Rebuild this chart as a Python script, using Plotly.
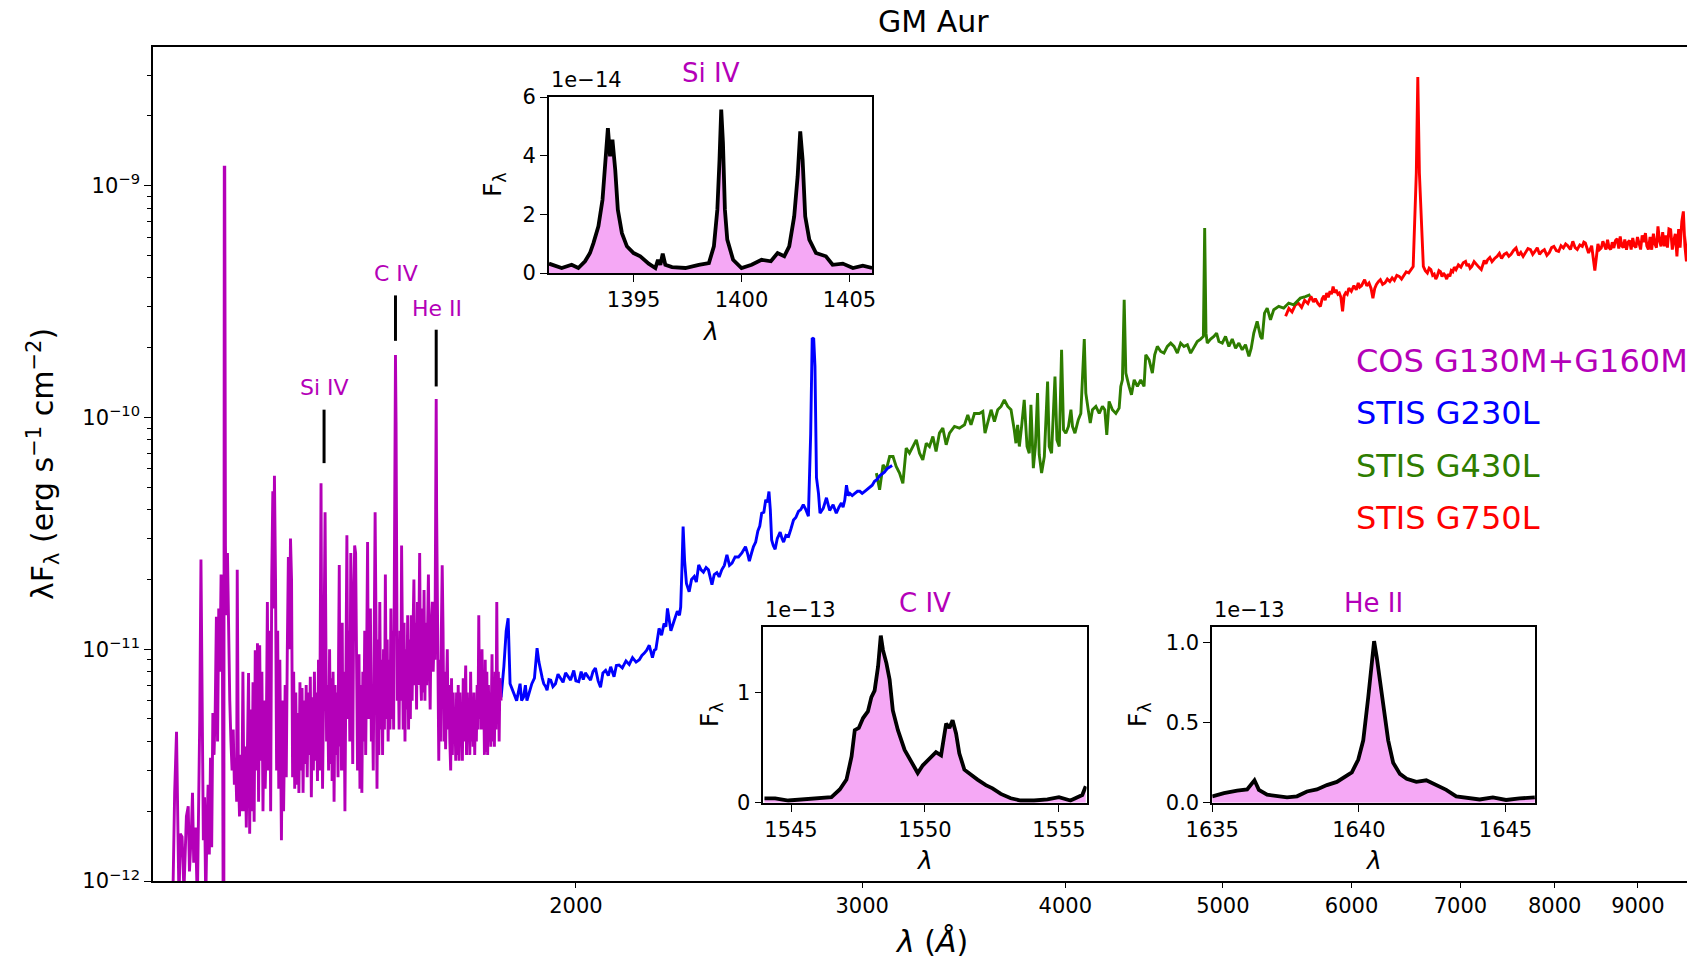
import plotly.graph_objects as go

# ---------------- main spectrum data (wavelength in Angstrom, lambda*F_lambda) ----------------
cos_wl = [1130, 1133, 1136, 1138, 1140, 1142, 1145, 1148, 1152, 1155, 1157, 1160, 1162, 1164, 1167, 1170,
          1172, 1174, 1176, 1178, 1180, 1182, 1184, 1186, 1188, 1190, 1192, 1194, 1196, 1198, 1200, 1202,
          1204, 1206, 1208, 1210, 1212, 1213.5, 1214.8, 1215.5, 1216.3, 1217.5, 1219, 1221, 1223, 1225, 1227,
          1229, 1231, 1233, 1235, 1237, 1238, 1240, 1242, 1244, 1246, 1248, 1250, 1252, 1254, 1256, 1258,
          1260, 1262, 1264, 1266, 1268, 1270, 1272, 1274, 1276, 1278, 1280, 1282, 1284, 1286, 1288, 1290,
          1292, 1294, 1296, 1298, 1300, 1302, 1303.5, 1305, 1307, 1309, 1311, 1313, 1315, 1318, 1320, 1322,
          1325, 1327, 1329, 1331, 1333, 1335, 1337, 1339, 1341, 1343, 1345, 1347, 1349, 1351, 1353, 1355,
          1357, 1359, 1361, 1363, 1365, 1367, 1369, 1371, 1373, 1375, 1377, 1379, 1381, 1383, 1385, 1387,
          1389, 1391, 1392.5, 1394, 1395.5, 1397, 1399, 1400.5, 1402, 1403.5, 1405, 1407, 1409, 1411, 1413,
          1415, 1416, 1418, 1420, 1422, 1424, 1426, 1428, 1429, 1430.5, 1432, 1434, 1435, 1436.5, 1438, 1440,
          1442, 1444, 1446, 1448, 1450, 1452, 1454, 1456, 1458, 1460, 1462, 1464, 1466, 1468, 1471, 1473,
          1475, 1477, 1479, 1481, 1483, 1485, 1487, 1489, 1491, 1493, 1495, 1497, 1499, 1501, 1503, 1505,
          1507, 1509, 1511, 1513, 1515, 1517, 1519, 1521, 1523, 1525, 1527, 1529, 1531, 1533, 1535, 1537,
          1539, 1541, 1543, 1545, 1546.5, 1547.8, 1549, 1550.3, 1551.5, 1553, 1555, 1557, 1559, 1561, 1562.5,
          1564, 1566, 1568, 1570, 1572, 1574, 1576, 1578, 1580, 1582, 1584, 1586, 1588, 1590, 1592, 1594,
          1596, 1598, 1600, 1603, 1605, 1607, 1609, 1611, 1613, 1615, 1617, 1619, 1621, 1623, 1625, 1627,
          1629, 1632, 1634, 1636, 1638, 1640, 1641, 1642, 1643.5, 1645, 1647, 1649, 1651, 1653, 1655, 1657,
          1659, 1661, 1663, 1665, 1667, 1669, 1671, 1673, 1675, 1677, 1679, 1681, 1683, 1685, 1687, 1689,
          1691, 1693, 1695, 1697, 1699, 1701, 1703, 1705, 1707, 1709, 1711, 1713, 1715, 1717, 1719, 1721,
          1723, 1725, 1727, 1729, 1731, 1733, 1735, 1737, 1739, 1741, 1743, 1745, 1747, 1749, 1751, 1753,
          1755, 1757, 1759, 1761, 1763, 1765, 1767, 1769, 1771, 1773, 1776, 1778, 1780, 1782, 1784, 1786,
          1788, 1790, 1792, 1794, 1796, 1799]
cos_flux = [8e-13, 2.4e-12, 4.4e-12, 1.6e-12, 8e-13, 1.6e-12, 1.55e-12, 9e-13, 1.9e-12, 2.1e-12, 1.1e-12, 1.6e-12,
            2.4e-12, 1.2e-12, 1.7e-12, 8e-13, 2.0e-12, 5.0e-12, 2.44e-11, 4.0e-12, 1.5e-12, 2.3e-12, 8e-13,
            1.7e-12, 2.6e-12, 1.3e-12, 3.4e-12, 1.4e-12, 5.3e-12, 3.5e-12, 5.5e-12, 1.38e-11, 4.0e-12, 1.5e-11,
            8.0e-12, 2.1e-11, 1.8e-11, 8e-13, 8e-13, 1.2e-9, 1.2e-9, 2.8e-11, 1.4e-11, 2.6e-11, 9e-12, 6e-12,
            4e-12, 3.0e-12, 4.5e-12, 2.6e-12, 3.4e-12, 2.2e-12, 2.2e-11, 3.0e-12, 1.9e-12, 3.5e-12, 2.0e-12,
            8.0e-12, 2.0e-12, 3.8e-12, 1.7e-12, 5.0e-12, 7.9e-12, 1.6e-12, 5.5e-12, 2.0e-12, 7.2e-12, 1.8e-12,
            9.9e-12, 3.0e-12, 1.06e-11, 2.2e-12, 1.04e-11, 3.3e-12, 8.0e-12, 2.0e-12, 6.0e-12, 2.5e-12, 4.2e-12,
            1.6e-11, 3.0e-12, 1.2e-11, 2.0e-12, 2.0e-11, 4.8e-11, 1.5e-11, 5.6e-11, 2.0e-11, 3.0e-12, 1.2e-11,
            2.5e-12, 9e-12, 1.5e-12, 6e-12, 2.0e-12, 7e-12, 2.8e-12, 1.0e-11, 2.5e-11, 1.0e-11, 3.0e-11, 2.0e-11,
            2.8e-12, 8e-12, 2.5e-12, 6.5e-12, 2.6e-12, 5.3e-12, 2.4e-12, 7.2e-12, 3.0e-12, 6.8e-12, 2.4e-12,
            6.0e-12, 3.2e-12, 7.0e-12, 2.8e-12, 6.5e-12, 3.5e-12, 7.6e-12, 2.3e-12, 6.2e-12, 3.0e-12, 8.0e-12,
            3.3e-12, 6.5e-12, 2.7e-12, 9e-12, 3.0e-12, 1.2e-11, 5.2e-11, 8e-12, 2.5e-12, 6e-12, 1.5e-11, 3.9e-11,
            1.2e-11, 4.0e-12, 7e-12, 3.0e-12, 1.0e-11, 3.2e-12, 7.5e-12, 2.7e-12, 8.0e-12, 2.2e-12, 7.0e-12,
            3.5e-12, 6.5e-12, 2.8e-12, 9.0e-12, 2.31e-11, 3.8e-12, 7.5e-12, 3.0e-12, 1.3e-11, 3.0e-12, 8.0e-12,
            2.0e-12, 1.0e-11, 3.1e-11, 5.0e-12, 1.2e-11, 4.0e-12, 2.6e-11, 1.3e-11, 3.2e-12, 1.5e-11, 2.8e-11,
            2.6e-11, 6.0e-12, 3.0e-12, 9.5e-12, 2.5e-12, 7.0e-12, 2.4e-12, 8e-12, 4.0e-12, 1.2e-11, 3.5e-12,
            9e-12, 2.9e-11, 5e-12, 1.0e-11, 1.5e-11, 4.0e-12, 7e-12, 3.0e-12, 1.2e-11, 3.9e-11, 1.2e-11, 2.5e-12,
            1.1e-11, 3.5e-12, 1.6e-11, 4.5e-12, 9e-12, 3.5e-12, 1.0e-11, 4.5e-12, 2.1e-11, 5e-12, 1.1e-11,
            4.0e-12, 9e-12, 4.5e-12, 1.5e-11, 5.0e-12, 1.2e-11, 4.5e-12, 2.0e-11, 8e-11, 1.86e-10, 9.5e-11,
            2.0e-11, 6e-12, 1.0e-11, 4.5e-12, 1.2e-11, 6e-12, 2.8e-11, 8e-12, 4.5e-12, 1.3e-11, 4.0e-12, 1.0e-11,
            5.5e-12, 1.4e-11, 4.5e-12, 1.1e-11, 5.0e-12, 1.4e-11, 6e-12, 1.2e-11, 2.0e-11, 7e-12, 1.3e-11,
            5.5e-12, 1.6e-11, 7.0e-12, 2.6e-11, 8e-12, 6.0e-12, 1.5e-11, 6.5e-12, 1.8e-11, 6e-12, 1.3e-11, 7e-12,
            1.2e-11, 2.1e-11, 9e-12, 5.5e-12, 1.2e-11, 1.6e-11, 8e-12, 1.1e-11, 9e-12, 6e-11, 1.2e-10, 4e-11,
            1.5e-11, 5e-12, 3.3e-12, 9e-12, 4.0e-12, 1.2e-11, 2.3e-11, 1.2e-11, 4.0e-12, 8e-12, 3.7e-12, 6.5e-12,
            1.0e-11, 4.5e-12, 7e-12, 4.0e-12, 3.0e-12, 7.5e-12, 3.5e-12, 6.5e-12, 4.0e-12, 5.5e-12, 3.3e-12,
            6.5e-12, 3.5e-12, 7e-12, 3.3e-12, 6.5e-12, 4.0e-12, 5.5e-12, 3.3e-12, 7.5e-12, 4.0e-12, 6.0e-12,
            8.5e-12, 3.5e-12, 6.5e-12, 4.2e-12, 6.0e-12, 3.5e-12, 8e-12, 4.0e-12, 6e-12, 3.8e-12, 6.5e-12,
            3.5e-12, 6e-12, 4.0e-12, 7e-12, 4.5e-12, 1.4e-11, 5.0e-12, 9e-12, 4.5e-12, 1.0e-11, 4.5e-12, 7e-12,
            3.5e-12, 9e-12, 3.6e-12, 8e-12, 3.5e-12, 7e-12, 4.0e-12, 6.5e-12, 3.8e-12, 9.5e-12, 4.0e-12, 7e-12,
            3.8e-12, 8e-12, 4.5e-12, 1.6e-11, 5e-12, 8e-12, 4.0e-12, 7.5e-12, 6.0e-12]

g230l_wl = [1799, 1806, 1812, 1817, 1822, 1831, 1839, 1848, 1852, 1857, 1862, 1866, 1872, 1879, 1886, 1893,
            1898, 1902, 1907, 1911, 1916, 1920, 1925, 1930, 1936, 1943, 1950, 1957, 1964, 1971, 1978, 1985,
            1994, 2000, 2008, 2015, 2021, 2027, 2035, 2042, 2049, 2056, 2064, 2071, 2078, 2086, 2094, 2101,
            2111, 2118, 2126, 2136, 2147, 2157, 2167, 2178, 2188, 2196, 2203, 2211, 2219, 2229, 2235, 2240,
            2250, 2258, 2266, 2272, 2277, 2283, 2288, 2298, 2309, 2316, 2320, 2324, 2328, 2333, 2339, 2348,
            2356, 2365, 2372, 2380, 2388, 2396, 2405, 2413, 2425, 2433, 2442, 2450, 2459, 2468, 2477, 2486,
            2495, 2506, 2518, 2530, 2543, 2550, 2557, 2565, 2572, 2580, 2588, 2595, 2602, 2610, 2617, 2623,
            2629, 2634, 2639, 2645, 2652, 2660, 2671, 2678, 2684, 2693, 2703, 2712, 2722, 2731, 2741, 2750,
            2760, 2770, 2780, 2789, 2795, 2801, 2806, 2812, 2820, 2826, 2839, 2852, 2865, 2879, 2892, 2903,
            2913, 2920, 2927, 2934, 2941, 2948, 2958, 2969, 2980, 2990, 3000, 3011, 3022, 3032, 3043, 3053,
            3064, 3075, 3086, 3096, 3107, 3118, 3130]
g230l_flux = [6.2e-12, 8.4e-12, 1.2e-11, 1.36e-11, 7.1e-12, 6.5e-12, 6.0e-12, 7.1e-12, 6.0e-12, 6.2e-12, 7.0e-12,
              6.0e-12, 6.5e-12, 7.1e-12, 7.5e-12, 1.01e-11, 8.8e-12, 8.1e-12, 7.5e-12, 7.1e-12, 6.9e-12, 6.65e-12,
              7.4e-12, 7.36e-12, 6.9e-12, 7.1e-12, 7.8e-12, 7.5e-12, 7.2e-12, 7.9e-12, 7.6e-12, 7.36e-12, 8.1e-12,
              7.3e-12, 7.24e-12, 8.0e-12, 7.4e-12, 7.9e-12, 7.6e-12, 7.36e-12, 8.0e-12, 8.3e-12, 7.3e-12, 6.85e-12,
              7.9e-12, 8.1e-12, 7.7e-12, 8.4e-12, 7.6e-12, 8.5e-12, 8.55e-12, 8.3e-12, 8.9e-12, 8.6e-12, 9.2e-12,
              8.8e-12, 9.0e-12, 9.4e-12, 9.6e-12, 9.9e-12, 1.04e-11, 9.2e-12, 9.9e-12, 1.0e-11, 1.23e-11, 1.15e-11,
              1.29e-11, 1.25e-11, 1.5e-11, 1.3e-11, 1.2e-11, 1.32e-11, 1.46e-11, 1.4e-11, 1.52e-11, 2.2e-11,
              3.38e-11, 2.4e-11, 1.92e-11, 1.77e-11, 2.0e-11, 2.06e-11, 1.95e-11, 2.31e-11, 2.2e-11, 2.15e-11,
              2.25e-11, 2.2e-11, 1.9e-11, 2.1e-11, 2.14e-11, 2.05e-11, 2.2e-11, 2.3e-11, 2.55e-11, 2.3e-11,
              2.35e-11, 2.5e-11, 2.5e-11, 2.6e-11, 2.77e-11, 2.6e-11, 2.4e-11, 2.6e-11, 2.77e-11, 2.9e-11,
              3.24e-11, 3.4e-11, 3.86e-11, 3.9e-11, 4.41e-11, 4.3e-11, 4.79e-11, 4.0e-11, 2.96e-11, 2.8e-11,
              2.7e-11, 3.0e-11, 3.2e-11, 3.0e-11, 2.9e-11, 3.1e-11, 3.07e-11, 3.3e-11, 3.61e-11, 3.7e-11, 3.93e-11,
              4.0e-11, 4.2e-11, 4.0e-11, 3.75e-11, 8.5e-11, 2.2e-10, 2.18e-10, 1.66e-10, 5.5e-11, 4.7e-11,
              3.86e-11, 4.05e-11, 4.5e-11, 3.97e-11, 4.2e-11, 3.86e-11, 4.1e-11, 4.27e-11, 4.1e-11, 4.4e-11,
              5.1e-11, 4.6e-11, 4.7e-11, 4.6e-11, 4.7e-11, 4.8e-11, 4.8e-11, 4.7e-11, 4.8e-11, 4.9e-11, 5.0e-11,
              5.1e-11, 5.3e-11, 5.4e-11, 5.6e-11, 5.7e-11, 5.8e-11, 6.0e-11, 6.1e-11, 6.2e-11]

g430l_wl = [3061, 3075, 3090, 3104, 3119, 3134, 3148, 3163, 3178, 3193, 3208, 3223, 3239, 3254, 3269, 3285,
            3300, 3316, 3331, 3347, 3363, 3379, 3395, 3419, 3443, 3468, 3484, 3500, 3517, 3542, 3559, 3570,
            3584, 3601, 3618, 3635, 3652, 3669, 3687, 3704, 3721, 3730, 3739, 3748, 3760, 3774, 3789, 3801,
            3810, 3823, 3834, 3846, 3855, 3868, 3883, 3901, 3910, 3923, 3942, 3953, 3966, 3979, 3990, 4003,
            4018, 4032, 4041, 4055, 4074, 4089, 4109, 4118, 4132, 4144, 4157, 4177, 4197, 4216, 4230, 4242,
            4256, 4276, 4297, 4317, 4327, 4337, 4348, 4358, 4378, 4393, 4410, 4430, 4451, 4472, 4483, 4504,
            4525, 4540, 4557, 4579, 4600, 4622, 4644, 4666, 4688, 4710, 4732, 4755, 4777, 4800, 4822, 4845,
            4864, 4873, 4882, 4891, 4914, 4937, 4956, 4972, 4996, 5019, 5043, 5067, 5091, 5115, 5139, 5163,
            5188, 5205, 5224, 5249, 5274, 5286, 5304, 5324, 5349, 5374, 5412, 5450, 5489, 5528, 5580, 5620,
            5660]
g430l_flux = [5.75e-11, 4.87e-11, 6.24e-11, 5.94e-11, 6.78e-11, 6.78e-11, 6.14e-11, 5.75e-11, 5.2e-11, 7.37e-11,
              7.01e-11, 7.49e-11, 8.0e-11, 7.01e-11, 6.56e-11, 7.74e-11, 7.49e-11, 8.27e-11, 7.13e-11, 8.55e-11,
              8.99e-11, 7.62e-11, 8.55e-11, 9.14e-11, 8.99e-11, 9.29e-11, 1.026e-10, 9.29e-11, 1.04e-10, 1.04e-10,
              1.061e-10, 8.55e-11, 9.6e-11, 1.079e-10, 9.6e-11, 1.079e-10, 1.115e-10, 1.191e-10, 1.115e-10,
              1.079e-10, 8.84e-11, 7.74e-11, 9.29e-11, 7.49e-11, 9.14e-11, 1.191e-10, 7.49e-11, 7.01e-11, 1.133e-10,
              6.04e-11, 7.49e-11, 1.273e-10, 6.9e-11, 5.75e-11, 6.78e-11, 1.429e-10, 7.49e-11, 7.01e-11, 1.502e-10,
              8.0e-11, 7.49e-11, 1.958e-10, 8.84e-11, 8.55e-11, 9.14e-11, 1.079e-10, 9.14e-11, 8.55e-11, 9.76e-11,
              1.04e-10, 2.177e-10, 1.273e-10, 1.079e-10, 9.45e-11, 1.079e-10, 1.115e-10, 1.04e-10, 1.115e-10,
              1.079e-10, 8.41e-11, 1.172e-10, 1.079e-10, 1.04e-10, 1.098e-10, 1.36e-10, 1.453e-10, 3.22e-10,
              1.553e-10, 1.36e-10, 1.252e-10, 1.453e-10, 1.36e-10, 1.453e-10, 1.36e-10, 1.863e-10, 1.773e-10,
              1.553e-10, 1.863e-10, 2.024e-10, 1.925e-10, 1.894e-10, 2.024e-10, 2.092e-10, 2.024e-10, 1.894e-10,
              2.092e-10, 2.024e-10, 2.058e-10, 1.894e-10, 2.024e-10, 2.126e-10, 2.177e-10, 2.235e-10, 6.56e-10,
              2.31e-10, 2.092e-10, 2.177e-10, 2.235e-10, 2.31e-10, 2.126e-10, 2.092e-10, 2.235e-10, 2.024e-10,
              2.177e-10, 1.99e-10, 2.092e-10, 1.958e-10, 2.058e-10, 1.833e-10, 1.99e-10, 2.31e-10, 2.595e-10,
              2.235e-10, 2.177e-10, 2.819e-10, 2.963e-10, 2.638e-10, 2.916e-10, 3.012e-10, 2.963e-10, 3.113e-10,
              3.06e-10, 3.271e-10, 3.32e-10, 3.383e-10]

g750l_wl = [5465, 5490, 5515, 5540, 5564, 5590, 5614, 5640, 5664, 5685, 5700, 5720, 5741, 5755, 5770, 5780,
            5792, 5805, 5820, 5832, 5845, 5858, 5870, 5885, 5897, 5910, 5924, 5937, 5950, 5963, 5977, 5998,
            6020, 6040, 6057, 6070, 6085, 6100, 6112, 6130, 6150, 6168, 6184, 6200, 6215, 6232, 6250, 6270,
            6290, 6312, 6334, 6355, 6375, 6397, 6419, 6440, 6460, 6483, 6506, 6527, 6547, 6576, 6590, 6605,
            6642, 6660, 6680, 6697, 6713, 6730, 6745, 6760, 6773, 6790, 6805, 6820, 6834, 6850, 6865, 6880,
            6896, 6910, 6925, 6940, 6957, 6980, 7005, 7028, 7051, 7065, 7080, 7097, 7114, 7137, 7160, 7185,
            7210, 7225, 7240, 7258, 7275, 7298, 7320, 7347, 7373, 7397, 7420, 7447, 7473, 7497, 7520, 7547,
            7574, 7600, 7625, 7650, 7676, 7703, 7730, 7755, 7779, 7805, 7830, 7857, 7884, 7912, 7940, 7965,
            7991, 8018, 8045, 8072, 8099, 8125, 8150, 8180, 8208, 8235, 8260, 8290, 8319, 8337, 8355, 8375,
            8393, 8430, 8468, 8505, 8525, 8545, 8565, 8585, 8603, 8622, 8640, 8660, 8680, 8699, 8720, 8740,
            8760, 8778, 8797, 8815, 8835, 8856, 8875, 8895, 8915, 8935, 8955, 8975, 8995, 9015, 9035, 9055,
            9075, 9097, 9115, 9135, 9157, 9178, 9200, 9220, 9240, 9260, 9280, 9300, 9322, 9344, 9365, 9385,
            9405, 9428, 9450, 9470, 9490, 9512, 9535, 9555, 9578, 9599, 9620, 9641, 9670, 9700, 9750, 9800]
g750l_flux = [2.73e-10, 2.95e-10, 2.85e-10, 3.05e-10, 3.11e-10, 2.98e-10, 3.2e-10, 3.1e-10, 3.33e-10, 3.15e-10,
              3.25e-10, 3.1e-10, 3.01e-10, 3.25e-10, 3.35e-10, 3.2e-10, 3.44e-10, 3.3e-10, 3.5e-10, 3.4e-10,
              3.67e-10, 3.45e-10, 3.55e-10, 3.4e-10, 3.44e-10, 3.3e-10, 2.87e-10, 3.35e-10, 3.45e-10, 3.4e-10,
              3.61e-10, 3.5e-10, 3.7e-10, 3.55e-10, 3.8e-10, 3.65e-10, 3.7e-10, 3.85e-10, 3.93e-10, 3.7e-10,
              3.8e-10, 3.6e-10, 3.27e-10, 3.6e-10, 3.75e-10, 3.85e-10, 3.93e-10, 3.75e-10, 3.8e-10, 3.95e-10,
              3.86e-10, 4.0e-10, 3.9e-10, 4.1e-10, 4.06e-10, 3.95e-10, 4.1e-10, 4.25e-10, 4.2e-10, 4.35e-10,
              4.48e-10, 1.13e-9, 2.94e-9, 1.13e-9, 4.48e-10, 4.3e-10, 4.2e-10, 4.4e-10, 4.34e-10, 4.1e-10,
              4.15e-10, 3.95e-10, 4.06e-10, 4.3e-10, 4.25e-10, 4.05e-10, 4.2e-10, 4.1e-10, 3.95e-10, 4.15e-10,
              4.06e-10, 4.3e-10, 4.25e-10, 4.45e-10, 4.34e-10, 4.55e-10, 4.45e-10, 4.65e-10, 4.71e-10, 4.5e-10,
              4.6e-10, 4.4e-10, 4.48e-10, 4.7e-10, 4.6e-10, 4.45e-10, 4.34e-10, 4.6e-10, 4.75e-10, 4.6e-10,
              4.79e-10, 4.9e-10, 4.7e-10, 4.85e-10, 4.95e-10, 5.1e-10, 4.85e-10, 5.05e-10, 5.12e-10, 4.95e-10,
              5.05e-10, 5.25e-10, 5.38e-10, 5.0e-10, 5.15e-10, 4.95e-10, 5.12e-10, 5.35e-10, 5.3e-10, 5.05e-10,
              5.2e-10, 5.4e-10, 5.05e-10, 5.2e-10, 5.29e-10, 5.0e-10, 5.15e-10, 5.4e-10, 5.47e-10, 5.25e-10,
              5.2e-10, 5.5e-10, 5.38e-10, 5.6e-10, 5.5e-10, 5.3e-10, 5.75e-10, 5.4e-10, 5.3e-10, 5.55e-10,
              5.47e-10, 5.7e-10, 5.65e-10, 5.3e-10, 5.12e-10, 5.5e-10, 4.3e-10, 5.6e-10, 5.3e-10, 5.38e-10,
              5.75e-10, 5.5e-10, 5.3e-10, 5.84e-10, 5.4e-10, 5.3e-10, 5.7e-10, 5.38e-10, 5.8e-10, 5.9e-10,
              5.35e-10, 6.04e-10, 5.5e-10, 5.4e-10, 5.85e-10, 5.29e-10, 5.7e-10, 5.8e-10, 5.3e-10, 5.94e-10,
              5.5e-10, 5.4e-10, 6.0e-10, 5.65e-10, 5.3e-10, 6.1e-10, 5.7e-10, 6.24e-10, 5.5e-10, 5.3e-10, 6.0e-10,
              5.29e-10, 6.2e-10, 5.6e-10, 5.4e-10, 6.67e-10, 5.8e-10, 5.47e-10, 6.3e-10, 5.47e-10, 6.1e-10,
              5.4e-10, 6.5e-10, 6.45e-10, 5.3e-10, 5.8e-10, 6.2e-10, 4.95e-10, 6.5e-10, 5.4e-10, 7.0e-10, 7.74e-10,
              5.5e-10, 4.71e-10, 6.2e-10, 6.0e-10, 5.2e-10, 5.5e-10]

# vertical line markers for the three highlighted lines
marker_wl = [1400, 1549, 1641]
marker_lo = [6.35e-11, 2.14e-10, 1.36e-10]
marker_hi = [1.08e-10, 3.36e-10, 2.39e-10]
marker_names = ["Si IV", "C IV", "He II"]

# ---------------- inset data (F_lambda) ----------------
siiv_wl = [1391.08, 1391.67, 1392.13, 1392.44, 1392.75, 1392.98, 1393.14, 1393.37, 1393.56, 1393.68, 1393.81,
           1393.91, 1394.02, 1394.15, 1394.27, 1394.46, 1394.69, 1395.0, 1395.31, 1395.7, 1396.01, 1396.13,
           1396.24, 1396.35, 1396.47, 1396.78, 1397.4, 1398.02, 1398.49, 1398.72, 1398.88, 1398.98, 1399.06,
           1399.14, 1399.23, 1399.34, 1399.5, 1399.61, 1400.0, 1400.47, 1400.93, 1401.36, 1401.67, 1401.98,
           1402.21, 1402.44, 1402.6, 1402.72, 1402.83, 1402.95, 1403.14, 1403.45, 1403.91, 1404.22, 1404.69,
           1405.16, 1405.62, 1406.05]
siiv_flux = [0.32e-14, 0.17e-14, 0.28e-14, 0.17e-14, 0.40e-14, 0.68e-14, 1.02e-14, 1.59e-14, 2.50e-14, 3.52e-14,
             4.94e-14, 3.98e-14, 4.55e-14, 3.52e-14, 2.16e-14, 1.36e-14, 0.91e-14, 0.68e-14, 0.57e-14, 0.32e-14,
             0.17e-14, 0.45e-14, 0.28e-14, 0.66e-14, 0.28e-14, 0.20e-14, 0.17e-14, 0.28e-14, 0.34e-14, 0.91e-14,
             2.16e-14, 3.86e-14, 5.57e-14, 4.43e-14, 2.16e-14, 1.14e-14, 0.74e-14, 0.45e-14, 0.17e-14, 0.28e-14,
             0.45e-14, 0.40e-14, 0.68e-14, 0.57e-14, 0.91e-14, 1.93e-14, 3.30e-14, 4.83e-14, 3.86e-14, 1.93e-14,
             1.14e-14, 0.68e-14, 0.57e-14, 0.28e-14, 0.32e-14, 0.17e-14, 0.25e-14, 0.17e-14]

civ_wl = [1544.01, 1544.41, 1544.9, 1545.52, 1546.14, 1546.51, 1546.82, 1547.07, 1547.26, 1547.38, 1547.53,
          1547.69, 1547.87, 1548.0, 1548.12, 1548.25, 1548.35, 1548.43, 1548.56, 1548.68, 1548.8, 1548.99,
          1549.24, 1549.49, 1549.73, 1549.92, 1550.17, 1550.41, 1550.6, 1550.79, 1550.91, 1551.03, 1551.16,
          1551.28, 1551.47, 1551.72, 1551.96, 1552.27, 1552.52, 1552.83, 1553.2, 1553.57, 1554.07, 1554.57,
          1555.0, 1555.43, 1555.87, 1556.0]
civ_flux = [0.04e-13, 0.04e-13, 0.02e-13, 0.03e-13, 0.04e-13, 0.05e-13, 0.12e-13, 0.21e-13, 0.42e-13, 0.66e-13,
            0.68e-13, 0.77e-13, 0.83e-13, 0.96e-13, 1.02e-13, 1.24e-13, 1.52e-13, 1.39e-13, 1.27e-13, 1.12e-13,
            0.84e-13, 0.66e-13, 0.48e-13, 0.37e-13, 0.27e-13, 0.34e-13, 0.40e-13, 0.46e-13, 0.43e-13, 0.72e-13,
            0.68e-13, 0.75e-13, 0.63e-13, 0.45e-13, 0.30e-13, 0.25e-13, 0.21e-13, 0.16e-13, 0.13e-13, 0.08e-13,
            0.04e-13, 0.02e-13, 0.02e-13, 0.03e-13, 0.05e-13, 0.02e-13, 0.07e-13, 0.15e-13]

heii_wl = [1635.0, 1635.4, 1635.85, 1636.19, 1636.44, 1636.59, 1636.87, 1637.21, 1637.55, 1637.89, 1638.23,
           1638.57, 1638.91, 1639.25, 1639.53, 1639.76, 1639.98, 1640.15, 1640.32, 1640.44, 1640.52, 1640.61,
           1640.72, 1640.83, 1641.0, 1641.17, 1641.4, 1641.63, 1641.96, 1642.3, 1642.64, 1642.98, 1643.32,
           1643.66, 1644.12, 1644.57, 1645.02, 1645.48, 1646.0]
heii_flux = [0.04e-13, 0.06e-13, 0.075e-13, 0.083e-13, 0.14e-13, 0.08e-13, 0.05e-13, 0.04e-13, 0.033e-13,
             0.04e-13, 0.07e-13, 0.083e-13, 0.11e-13, 0.13e-13, 0.16e-13, 0.19e-13, 0.27e-13, 0.39e-13, 0.66e-13,
             0.88e-13, 1.01e-13, 0.91e-13, 0.75e-13, 0.62e-13, 0.39e-13, 0.25e-13, 0.18e-13, 0.15e-13, 0.13e-13,
             0.14e-13, 0.11e-13, 0.08e-13, 0.04e-13, 0.03e-13, 0.02e-13, 0.033e-13, 0.017e-13, 0.027e-13,
             0.033e-13]

# tick labels
x_ticks = [2000, 3000, 4000, 5000, 6000, 7000, 8000, 9000]
y_ticks = [1e-12, 1e-11, 1e-10, 1e-9]
y_ticktext = ["10<sup>−12</sup>", "10<sup>−11</sup>", "10<sup>−10</sup>", "10<sup>−9</sup>"]
y_minor = [m * 10.0 ** e for e in (-12, -11, -10, -9) for m in range(2, 10) if m * 10.0 ** e < 4e-9]

legend_labels = ["COS G130M+G160M", "STIS G230L", "STIS G430L", "STIS G750L"]

MAG = "#b400b8"
BLUE = "#0000ff"
GREEN = "#2e7d00"
RED = "#ff0000"
PINK = "rgb(245,168,245)"
FONT = "DejaVu Sans"

fig = go.Figure()

# spectrum segments (drawn so that the UV segment is on top)
for wl, fl, col in [(g750l_wl, g750l_flux, RED), (g430l_wl, g430l_flux, GREEN),
                    (g230l_wl, g230l_flux, BLUE), (cos_wl, cos_flux, MAG)]:
    fig.add_trace(go.Scatter(x=wl, y=fl, mode="lines", line=dict(color=col, width=2.9),
                             xaxis="x", yaxis="y", showlegend=False, hoverinfo="skip"))

mx, my = [], []
for w, lo, hi in zip(marker_wl, marker_lo, marker_hi):
    mx += [w, w, None]
    my += [lo, hi, None]
fig.add_trace(go.Scatter(x=mx, y=my, mode="lines", line=dict(color="black", width=3),
                         xaxis="x", yaxis="y", showlegend=False, hoverinfo="skip"))

# insets
for wl, fl, ax in [(siiv_wl, siiv_flux, "2"), (civ_wl, civ_flux, "3"), (heii_wl, heii_flux, "4")]:
    fig.add_trace(go.Scatter(x=wl, y=fl, mode="lines", fill="tozeroy", fillcolor=PINK,
                             line=dict(color="black", width=3.8),
                             xaxis="x" + ax, yaxis="y" + ax, showlegend=False, hoverinfo="skip"))

L, R, T, B = 153, 0, 47, 82
W, H = 1691, 963
PW, PH = W - L - R, H - T - B


def px(xp):
    return (xp - L) / PW


def py(yp):
    return (H - B - yp) / PH


axis_common = dict(showline=True, linecolor="black", linewidth=1.6, showgrid=False, zeroline=False,
                   ticks="outside", tickcolor="black", tickwidth=1.4,
                   tickfont=dict(family=FONT, size=21, color="black"))

layout = dict(
    width=W, height=H, margin=dict(l=L, r=R, t=T, b=B),
    plot_bgcolor="white", paper_bgcolor="white", showlegend=False,
    font=dict(family=FONT, color="black"),
    xaxis=dict(type="log", range=[3.04091, 3.98447], domain=[0, 1], anchor="y", mirror=True,
               tickmode="array", tickvals=x_ticks, ticktext=[str(v) for v in x_ticks], ticklen=5,
               **axis_common),
    yaxis=dict(type="log", range=[-12, -8.402], domain=[0, 1], anchor="x", mirror=False,
               tickmode="array", tickvals=y_ticks, ticktext=y_ticktext, ticklen=7,
               minor=dict(tickmode="array", tickvals=y_minor, ticks="outside", ticklen=4,
                          tickwidth=1.2, tickcolor="black", showgrid=False),
               **axis_common),
)

insets = [
    ("2", [1391.08, 1406.05], [0, 6e-14], [1395, 1400, 1405], [0, 2e-14, 4e-14, 6e-14], ["0", "2", "4", "6"],
     (550, 874, 97, 273), "Si IV", "1e−14", 55),
    ("3", [1543.97, 1556.03], [0, 1.6e-13], [1545, 1550, 1555], [0, 1e-13], ["0", "1"],
     (765, 1089, 626.7, 802.7), "C IV", "1e−13", 53),
    ("4", [1635.0, 1646.02], [0, 1.1e-13], [1635, 1640, 1645], [0, 0.5e-13, 1.0e-13], ["0.0", "0.5", "1.0"],
     (1215, 1539, 626.7, 802.7), "He II", "1e−13", 74),
]

annotations = []
for ax, xr, yr, xt, yt, ytt, box, title, offs, lab_off in insets:
    x0, x1, y0, y1 = box
    layout["xaxis" + ax] = dict(range=xr, domain=[px(x0), px(x1)], anchor="y" + ax, mirror=True,
                                tickmode="array", tickvals=xt, ticktext=[str(v) for v in xt], ticklen=7,
                                **axis_common)
    layout["yaxis" + ax] = dict(range=[yr[0], yr[1] * 1.0005], domain=[py(y1), py(y0)], anchor="x" + ax,
                                mirror=True, tickmode="array", tickvals=yt, ticktext=ytt, ticklen=7,
                                **axis_common)
    cx = (x0 + x1) / 2
    annotations.append(dict(text=title, x=px(cx), y=py(y0 - 24), xref="paper", yref="paper",
                            showarrow=False, xanchor="center", yanchor="middle",
                            font=dict(family=FONT, size=26, color=MAG)))
    annotations.append(dict(text=offs, x=px(x0), y=py(y0 - 3), xref="paper", yref="paper",
                            showarrow=False, xanchor="left", yanchor="bottom",
                            font=dict(family=FONT, size=21, color="black")))
    annotations.append(dict(text="F<sub>λ</sub>", x=px(x0 - lab_off), y=py((y0 + y1) / 2), xref="paper",
                            yref="paper", showarrow=False, textangle=-90, xanchor="center",
                            yanchor="middle", font=dict(family=FONT, size=25, color="black")))
    annotations.append(dict(text="<i>λ</i>", x=px(cx), y=py(y1 + 58), xref="paper", yref="paper",
                            showarrow=False, xanchor="center", yanchor="middle",
                            font=dict(family=FONT, size=25, color="black")))

# main title and axis labels
annotations.append(dict(text="GM Aur", x=px(936), y=py(21.6), xref="paper", yref="paper", showarrow=False,
                        xanchor="center", yanchor="middle", font=dict(family=FONT, size=30, color="black")))
annotations.append(dict(text="<i>λ</i> (<i>Å</i>)", x=px(934), y=py(941), xref="paper", yref="paper",
                        showarrow=False, xanchor="center", yanchor="middle",
                        font=dict(family=FONT, size=30, color="black")))
annotations.append(dict(text="λF<sub>λ</sub> (erg s<sup>−1</sup> cm<sup>−2</sup>)", x=px(43), y=py(463.7),
                        xref="paper", yref="paper", showarrow=False, textangle=-90, xanchor="center",
                        yanchor="middle", font=dict(family=FONT, size=30, color="black")))

# line labels above the markers
for name, (lx, ly) in zip(marker_names, [(324.7, 387.7), (396.7, 273.3), (437.3, 308.3)]):
    annotations.append(dict(text=name, x=px(lx), y=py(ly), xref="paper", yref="paper", showarrow=False,
                            xanchor="center", yanchor="middle", font=dict(family=FONT, size=22, color=MAG)))

# instrument labels
for lab, col, ly in zip(legend_labels, [MAG, BLUE, GREEN, RED], [360.7, 413.2, 465.8, 518.3]):
    annotations.append(dict(text=lab, x=px(1357), y=py(ly), xref="paper", yref="paper", showarrow=False,
                            xanchor="left", yanchor="middle", font=dict(family=FONT, size=32, color=col)))

layout["annotations"] = annotations
fig.update_layout(**layout)
fig.write_html("out.html")
